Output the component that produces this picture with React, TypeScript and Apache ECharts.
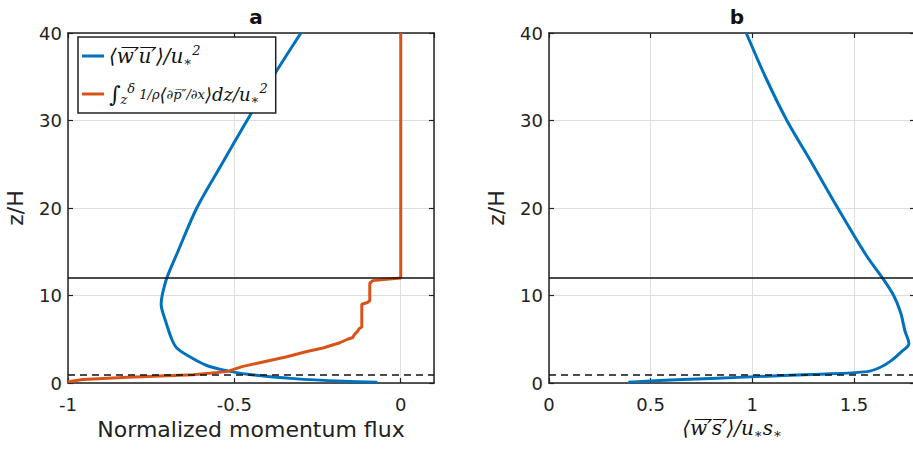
import React, { useEffect, useRef } from "react";
import * as echarts from "echarts";

// Panel a: normalized momentum flux profiles
const zBlueA = [40, 35, 30, 25, 20, 15, 12, 10, 9, 7, 5, 4, 3, 2, 1.5, 1, 0.5, 0.2, 0.1];
const xBlueA = [-0.30, -0.384, -0.462, -0.538, -0.613, -0.67, -0.703, -0.717, -0.72, -0.706, -0.688, -0.673, -0.634, -0.583, -0.534, -0.46, -0.32, -0.17, -0.07];

const zOrangeA = [40, 12, 11.7, 11.4, 9.4, 9.2, 9.0, 6.4, 6.2, 5.9, 5.5, 5.2, 5.0, 4.6, 4.4, 4.0, 3.6, 3.0, 2.4, 1.9, 1.3, 0.95, 0.65, 0.4, 0.15];
const xOrangeA = [0, 0, -0.084, -0.093, -0.093, -0.1, -0.117, -0.117, -0.125, -0.13, -0.14, -0.144, -0.16, -0.183, -0.2, -0.234, -0.282, -0.342, -0.414, -0.474, -0.523, -0.624, -0.82, -0.955, -1];

// Panel b: scalar flux profile
const zBlueB = [40, 35, 30, 25, 20, 14.6, 12, 10, 8, 6, 4.5, 3.5, 2.5, 1.8, 1.3, 1.0, 0.7, 0.4, 0.1];
const xBlueB = [0.97, 1.064, 1.17, 1.296, 1.42, 1.56, 1.64, 1.695, 1.73, 1.75, 1.77, 1.73, 1.68, 1.63, 1.565, 1.32, 0.99, 0.66, 0.39];

const zSolid = 12;
const zDashed = 1;
const yTicks = [0, 10, 20, 30, 40];

const BLUE = "#0072BD";
const ORANGE = "#D95319";
const SANS = "DejaVu Sans";
const SERIF = "DejaVu Serif";

const pairs = (xs: number[], zs: number[]) => xs.map((x, i) => [x, zs[i]]);

const LH = 24;
const rich = {
  m: { fontFamily: SERIF, fontStyle: "italic", fontSize: 20, color: "#111", lineHeight: LH, verticalAlign: "middle" },
  sb: { fontFamily: SERIF, fontStyle: "italic", fontSize: 13, color: "#111", verticalAlign: "bottom", lineHeight: LH },
  sp: { fontFamily: SERIF, fontStyle: "italic", fontSize: 13, color: "#111", verticalAlign: "top", lineHeight: LH },
  int: { fontFamily: SERIF, fontSize: 22, color: "#111", lineHeight: LH },
  fr: { fontFamily: SERIF, fontStyle: "italic", fontSize: 13, color: "#111", lineHeight: LH },
  m2: { fontFamily: SERIF, fontStyle: "italic", fontSize: 18, color: "#111", lineHeight: LH, verticalAlign: "middle" },
};

const NAME_BLUE = "wu";
const NAME_ORANGE = "dp";

export default function App() {
  const ref = useRef<HTMLDivElement>(null);
  useEffect(() => {
    if (!ref.current) return;
    const chart = echarts.init(ref.current, undefined, { renderer: "svg" });
    const gridW = 366;
    const gridH = 350;
    const axisLine = { show: true, onZero: false, lineStyle: { color: "#222", width: 1.5 } };
    const tick = { show: true, inside: true, length: 5, lineStyle: { color: "#222", width: 1.2 } };
    const label = { color: "#222", fontFamily: SANS, fontSize: 18 };
    const split = { show: true, lineStyle: { color: "#dedede", width: 1 } };

    const xAxisBottom = (gi: number, min: number, max: number, name: string, nameStyle: any, gap: number) => ({
      type: "value", gridIndex: gi, position: "bottom", min, max, interval: 0.5,
      axisLine, axisTick: tick, splitLine: split,
      axisLabel: { ...label, margin: 12, showMaxLabel: false, formatter: (v: number) => String(v) },
      name, nameLocation: "middle", nameGap: gap, nameTextStyle: nameStyle,
    });
    const xAxisTop = (gi: number, min: number, max: number) => ({
      type: "value", gridIndex: gi, position: "top", min, max, interval: 0.5,
      axisLine, axisTick: tick, splitLine: { show: false }, axisLabel: { show: false },
    });
    const yAxisLeft = (gi: number) => ({
      type: "value", gridIndex: gi, position: "left", min: yTicks[0], max: yTicks[yTicks.length - 1], interval: 10,
      axisLine, axisTick: tick, splitLine: split,
      axisLabel: { ...label, margin: 6 },
      name: "z/H", nameLocation: "middle", nameGap: 42,
      nameTextStyle: { color: "#222", fontFamily: SANS, fontSize: 22 },
    });
    const yAxisRight = (gi: number) => ({
      type: "value", gridIndex: gi, position: "right", min: yTicks[0], max: yTicks[yTicks.length - 1], interval: 10,
      axisLine, axisTick: tick, splitLine: { show: false }, axisLabel: { show: false },
    });

    const refLines = {
      silent: true,
      symbol: "none",
      label: { show: false },
      data: [
        { yAxis: zSolid, lineStyle: { color: "#111", width: 1.6, type: "solid" } },
        { yAxis: zDashed, lineStyle: { color: "#111", width: 1.6, type: [7, 5] } },
      ],
    };

    chart.setOption({
      animation: false,
      backgroundColor: "#fff",
      title: [
        { text: "a", left: 251, top: 2, textAlign: "center", textStyle: { fontFamily: SANS, fontSize: 20, fontWeight: "bold", color: "#111" } },
        { text: "b", left: 732, top: 2, textAlign: "center", textStyle: { fontFamily: SANS, fontSize: 20, fontWeight: "bold", color: "#111" } },
      ],
      grid: [
        { left: 68, top: 33, width: gridW, height: gridH, outerBoundsMode: "none", containLabel: false },
        { left: 549, top: 33, width: gridW, height: gridH, outerBoundsMode: "none", containLabel: false },
      ],
      xAxis: [
        xAxisBottom(0, -1, 0.1, "Normalized momentum flux", { color: "#222", fontFamily: SANS, fontSize: 22 }, 35),
        xAxisTop(0, -1, 0.1),
        xAxisBottom(1, 0, 1.8, "{m|⟨w̅′̅s̅′̅⟩/u}{sb|∗}{m|s}{sb|∗}", { rich, color: "#111" }, 33),
        xAxisTop(1, 0, 1.8),
      ],
      yAxis: [yAxisLeft(0), yAxisRight(0), yAxisLeft(1), yAxisRight(1)],
      legend: {
        show: true,
        orient: "vertical",
        left: 78,
        top: 37,
        data: [NAME_BLUE, NAME_ORANGE],
        icon: "rect",
        itemWidth: 22,
        itemHeight: 3,
        itemGap: 14,
        padding: [7, 8, 7, 4],
        borderColor: "#222",
        borderWidth: 1.5,
        backgroundColor: "#fff",
        selectedMode: false,
        formatter: (name: string) =>
          name === NAME_BLUE
            ? "{m|⟨w̅′̅u̅′̅⟩/u}{sb|∗}{sp|2}"
            : "{int|∫}{sb|z}{sp|δ}{fr| 1/ρ}{m2|⟨}{fr|∂p̅″/∂x}{m2|⟩dz/u}{sb|∗}{sp|2}",
        textStyle: { rich },
      },
      series: [
        {
          name: NAME_BLUE, type: "line", xAxisIndex: 0, yAxisIndex: 0,
          data: pairs(xBlueA, zBlueA), showSymbol: false, smooth: 0.3,
          lineStyle: { color: BLUE, width: 3 }, itemStyle: { color: BLUE },
          markLine: refLines,
        },
        {
          name: NAME_ORANGE, type: "line", xAxisIndex: 0, yAxisIndex: 0,
          data: pairs(xOrangeA, zOrangeA), showSymbol: false,
          lineStyle: { color: ORANGE, width: 3 }, itemStyle: { color: ORANGE },
        },
        {
          name: "ws", type: "line", xAxisIndex: 2, yAxisIndex: 2,
          data: pairs(xBlueB, zBlueB), showSymbol: false, smooth: 0.3,
          lineStyle: { color: BLUE, width: 3 }, itemStyle: { color: BLUE },
          markLine: refLines,
        },
      ],
    });
    return () => chart.dispose();
  }, []);
  return <div ref={ref} style={{ width: 913, height: 449, position: "absolute", left: 0, top: 0 }} />;
}
